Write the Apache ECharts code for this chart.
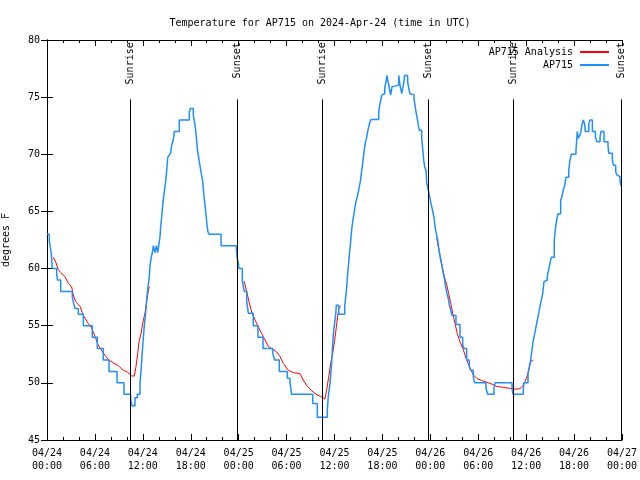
<!DOCTYPE html>
<html>
<head>
<meta charset="utf-8">
<script src="https://cdn.jsdelivr.net/npm/echarts@6/dist/echarts.min.js"></script>
<style>html,body{margin:0;padding:0;background:#fff}#c{width:640px;height:480px}</style>
</head>
<body>
<div id="c"></div>
<script>
// Hours since 2024-04-24 00:00 UTC
var blueHours = [0,0.29,0.41,0.54,0.66,1.21,1.31,1.71,3.17,3.32,3.5,3.92,4.55,5.67,6.3,7.05,7.76,8.77,9.64,10.48,10.64,11.02,11.31,11.65,11.77,11.9,12.06,12.18,12.36,12.48,12.65,12.81,12.9,13.06,13.24,13.31,13.52,13.69,13.86,13.99,14.15,14.24,14.36,14.49,14.61,14.74,14.86,14.99,15.11,15.28,15.49,15.61,15.82,15.94,16.57,17.82,17.94,18.32,18.57,18.7,18.82,18.95,19.07,19.2,19.32,19.5,19.62,19.78,19.91,20.04,20.16,20.29,21.79,23.71,23.79,23.92,24.04,24.46,24.71,25.01,25.21,25.83,26.42,27.05,28.26,28.51,29.09,30.09,30.43,30.64,33.27,33.85,35.1,35.22,35.44,35.65,35.78,35.9,36.03,36.15,36.23,36.53,37.28,37.4,37.53,37.65,37.78,37.9,38.03,38.15,38.32,38.44,38.57,38.69,38.86,38.98,39.11,39.23,39.36,39.48,39.61,39.73,39.86,40.03,40.16,40.28,40.45,40.57,41.54,41.66,41.79,41.95,42.11,42.29,42.45,42.57,42.7,42.86,43.04,43.2,43.37,44.04,44.2,44.42,44.62,44.79,45.16,45.29,45.45,45.67,45.96,46.08,46.21,46.37,46.49,46.62,46.92,47.04,47.17,47.29,47.46,47.54,47.71,47.83,47.96,48.08,48.21,48.37,48.5,48.62,48.8,48.92,49.05,49.17,49.3,49.46,49.62,49.8,49.92,50.09,50.25,50.38,50.55,50.71,51.21,51.71,52.05,52.22,52.55,52.88,53.06,53.38,53.56,54.97,55.18,55.97,56.1,58.23,58.35,59.64,59.72,60.23,60.39,60.57,60.73,60.9,61.07,61.23,61.4,61.57,61.73,61.9,62.07,62.23,62.48,62.65,62.82,62.99,63.15,63.52,63.65,63.82,63.99,64.32,64.49,64.65,64.83,64.99,65.33,65.49,65.65,66.24,66.33,66.4,66.53,66.74,66.87,66.99,67.16,67.33,67.41,67.84,68,68.29,68.67,68.84,69.25,69.37,69.75,70.25,70.34,70.79,70.92,71.21,71.34,71.59,71.75,71.84,72];
var blueTemps = [63,62.4,61.9,61.3,60,59.5,59,58,57.5,57,56.5,56,55,54,53,52,51,50,49,48.5,48,48.7,49,50,51,52.4,53.9,55,56.2,57.3,58.4,59.3,60.3,61,61.6,62,61.4,62,61.4,62,62.8,63.7,64.5,65.6,66.3,67,67.6,68.6,69.7,69.9,70.1,70.8,71.25,72,73,73.7,74,73.4,72.4,71.5,70.5,69.9,69.35,68.8,68.3,67.6,66.6,65.6,64.7,63.8,63.2,63,62,61.8,61,60.6,60,58.9,58,57.1,56.1,55,54,53,52.6,52,51,50.4,50,49,48.2,47,47.6,48.8,50,51.8,53.5,54.6,55.3,56,56.8,56,56.7,57.5,58.4,59.6,60.5,61.5,62.4,63.4,64.3,64.8,65.4,65.85,66.3,66.7,67.2,67.6,68.3,68.9,69.65,70.4,71,71.5,72,72.4,72.85,73.05,73.7,74.3,74.75,75.2,75.3,75.8,76.35,76.9,76.35,75.8,75.2,75.9,76.05,76.9,76.05,75.3,76.05,76.9,76.35,75.8,75.3,75.2,74.8,74.3,73.7,73.1,72.55,72.1,71.4,70.5,69.5,68.9,68.6,67.5,67,66.6,66.15,65.7,65.3,64.8,64.25,63.5,62.9,62.5,61.8,61.2,60.75,60.2,59.6,59,58.4,57.8,57.4,56.8,56.4,55.9,55.1,54,53.3,53,52,51.4,51.1,50.5,50,49.5,49,49.5,50,49.5,49,49.5,50,50.8,51.4,52,52.9,53.75,54.3,54.9,55.5,56.1,56.7,57.25,57.8,58.85,59,59.4,59.9,60.5,61,62.5,63.4,64.25,64.8,66,66.3,66.9,67.3,68,68.6,69.5,70,70.4,71.25,72,71.4,71.7,72,72.6,73,72.6,72,72.7,73,72,71.5,71.1,71.5,72,71.1,70.7,70.1,69.5,69.05,68.5,68.2,68.05,67.75,67.3,67.3];

// Analysis (three segments, null = gap)
var redHours = [0.79,1.13,1.41,1.72,2.25,2.67,3.09,3.29,3.59,4.13,4.55,5.17,5.6,6.01,6.42,7.05,7.68,8.3,8.93,9.55,10.06,10.61,10.93,11.14,11.36,11.52,11.77,11.98,12.27,12.48,12.68,12.83,null,
  24.67,25.01,25.29,25.63,26.05,26.46,26.89,27.3,27.71,28.14,28.76,29.18,29.59,30.22,30.84,31.68,32.09,32.59,33.15,33.68,34.27,34.81,35.02,35.27,35.52,35.78,36.03,36.28,36.53,36.78,null,
  48.8,49,49.21,49.46,49.71,50.05,50.3,50.55,50.8,51.09,51.38,51.71,52.13,52.55,52.97,53.38,53.81,54.43,55.06,55.68,56.31,57.14,58.19,58.82,59.23,59.56,59.85,60.07,60.32,60.57,60.9];
var redTemps = [61,60.5,59.9,59.65,59.3,58.7,58.4,57.7,57.1,56.7,55.9,55.2,54.8,54.05,53.3,52.6,52.05,51.75,51.5,51.1,50.95,50.6,50.6,51.4,52.6,53.6,54.3,55.2,56.1,57.1,58.05,58.4,null,
  58.9,58,57.1,56.2,55.5,54.9,54.3,53.75,53.2,53,52.7,52.3,51.7,51.1,50.9,50.8,50.25,49.7,49.3,49,48.8,48.6,49.4,50.5,51.7,52.6,53.75,55.2,56.5,56.75,null,
  62.65,61.9,61.2,60.3,59.4,58.6,57.8,57,56.1,55.2,54.3,53.6,52.9,52,51.3,50.7,50.4,50.2,50.05,49.9,49.7,49.6,49.5,49.45,49.5,49.7,50.1,50.5,51.1,51.85,52];

var eventHours = [10.39, 23.79, 34.44, 47.71, 58.35, 71.88];
var eventNames = ['Sunrise','Sunset','Sunrise','Sunset','Sunrise','Sunset'];
var eventLineTop = 74.8;

var xTicks = {min: 0, max: 72, step: 6};
var yTicks = {min: 45, max: 80, step: 5};

var FONT = 'DejaVu Sans Mono';

function pairs(h, t) {
  var out = [];
  for (var i = 0; i < h.length; i++) {
    if (h[i] === null) out.push([ '-', '-' ]);
    else out.push([h[i], t[i]]);
  }
  return out;
}
function pad(n){ return (n < 10 ? '0' : '') + n; }
function xLabel(v) {
  var day = 24 + Math.floor(v / 24);
  var hh = Math.round(v % 24);
  return '04/' + pad(day) + '\n' + pad(hh) + ':00';
}

var markLines = [];
for (var i = 0; i < eventHours.length; i++) {
  markLines.push([{coord: [eventHours[i], eventLineTop]}, {coord: [eventHours[i], yTicks.min]}]);
}
var labelPts = [];
for (var j = 0; j < eventHours.length; j++) {
  labelPts.push({value: [eventHours[j], 79.8], name: eventNames[j]});
}

var chart = echarts.init(document.getElementById('c'), null, {renderer: 'canvas'});
var axisCommon = {
  axisLine: {show: true, lineStyle: {color: '#000', width: 1}},
  splitLine: {show: false}
};
chart.setOption({
  animation: false,
  backgroundColor: '#fff',
  title: {
    text: 'Temperature for AP715 on 2024-Apr-24 (time in UTC)',
    left: 'center', top: 13,
    textStyle: {fontFamily: FONT, fontSize: 10, fontWeight: 'normal', color: '#000'}
  },
  legend: {
    data: ['AP715 Analysis', 'AP715'],
    orient: 'vertical', right: 26, top: 42, align: 'right',
    itemWidth: 29, itemHeight: 2, itemGap: 3, icon: 'rect',
    textStyle: {fontFamily: FONT, fontSize: 10, color: '#000', padding: [0, 2, 0, 0]}
  },
  grid: {left: 47, right: 18, top: 40, bottom: 40, containLabel: false, outerBoundsMode: 'none'},
  xAxis: [
    Object.assign({}, axisCommon, {
      type: 'value', position: 'bottom', min: xTicks.min, max: xTicks.max, interval: xTicks.step,
      axisTick: {show: true, inside: true, length: 6, lineStyle: {color: '#000'}},
      minorTick: {show: true, splitNumber: 3, length: 3, lineStyle: {color: '#000'}},
      axisLabel: {formatter: xLabel, fontFamily: FONT, fontSize: 10, color: '#000', lineHeight: 13, margin: 7}
    }),
    Object.assign({}, axisCommon, {
      type: 'value', position: 'top', min: xTicks.min, max: xTicks.max, interval: xTicks.step,
      axisTick: {show: true, inside: true, length: 6, lineStyle: {color: '#000'}},
      minorTick: {show: true, splitNumber: 3, length: 3, lineStyle: {color: '#000'}},
      axisLabel: {show: false}
    })
  ],
  yAxis: [
    Object.assign({}, axisCommon, {
      type: 'value', position: 'left', min: yTicks.min, max: yTicks.max, interval: yTicks.step,
      axisTick: {show: true, inside: true, length: 6, lineStyle: {color: '#000'}},
      axisLabel: {fontFamily: FONT, fontSize: 10, color: '#000', margin: 7},
      name: 'degrees F', nameLocation: 'middle', nameGap: 36, nameRotate: 90,
      nameTextStyle: {fontFamily: FONT, fontSize: 10, color: '#000'}
    }),
    Object.assign({}, axisCommon, {
      type: 'value', position: 'right', min: yTicks.min, max: yTicks.max, interval: yTicks.step,
      axisTick: {show: true, inside: true, length: 6, lineStyle: {color: '#000'}},
      axisLabel: {show: false}
    })
  ],
  series: [
    {
      name: 'AP715 Analysis', type: 'line', data: pairs(redHours, redTemps),
      showSymbol: false, symbol: 'none', connectNulls: false,
      lineStyle: {color: '#ff0000', width: 1}, itemStyle: {color: '#ff0000'}, z: 3
    },
    {
      name: 'AP715', type: 'line', step: 'end', data: pairs(blueHours, blueTemps),
      showSymbol: false, symbol: 'none',
      lineStyle: {color: '#1e8fff', width: 1.5}, itemStyle: {color: '#1e8fff'}, z: 4
    },
    {
      name: 'events', type: 'scatter', data: labelPts, symbolSize: 1,
      itemStyle: {color: '#000', opacity: 0}, silent: true, z: 5,
      label: {show: true, formatter: '{b}', position: 'inside', rotate: 90, align: 'right',
        verticalAlign: 'middle', fontFamily: FONT, fontSize: 10, color: '#000', opacity: 1,
        textBorderWidth: 0},
      markLine: {symbol: 'none', silent: true, label: {show: false},
        lineStyle: {color: '#000', width: 1, type: 'solid'}, data: markLines}
    }
  ]
});
</script>
</body>
</html>
